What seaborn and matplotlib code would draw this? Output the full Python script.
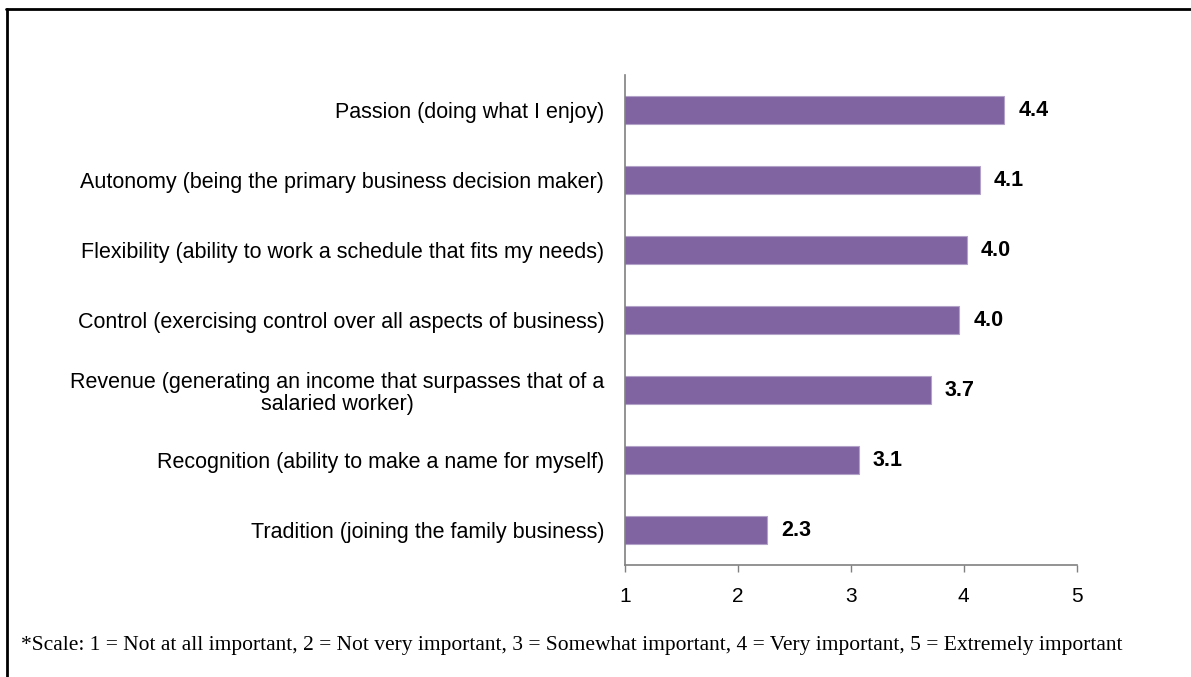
import matplotlib
matplotlib.use("Agg")
import matplotlib.pyplot as plt
import seaborn as sns
import pandas as pd
from matplotlib.lines import Line2D

# Data
categories = [
    "Passion (doing what I enjoy)",
    "Autonomy (being the primary business decision maker)",
    "Flexibility (ability to work a schedule that fits my needs)",
    "Control (exercising control over all aspects of business)",
    "Revenue (generating an income that surpasses that of a\nsalaried worker)",
    "Recognition (ability to make a name for myself)",
    "Tradition (joining the family business)",
]
scores = [4.36, 4.14, 4.03, 3.96, 3.71, 3.07, 2.26]
x_ticks = [1, 2, 3, 4, 5]

footnote = ("*Scale: 1 = Not at all important, 2 = Not very important, "
            "3 = Somewhat important, 4 = Very important, 5 = Extremely important")

df = pd.DataFrame({"category": categories, "score": scores})

sns.set_style("white")
plt.rcParams["font.family"] = ["Liberation Sans", "DejaVu Sans"]
plt.rcParams["text.color"] = "black"
plt.rcParams["xtick.color"] = "#808080"
plt.rcParams["xtick.labelcolor"] = "black"
plt.rcParams["ytick.labelcolor"] = "black"

fig = plt.figure(figsize=(11.91, 6.77), dpi=100)
ax = fig.add_axes([0.5248, 0.1654, 0.904 - 0.5248, 0.889 - 0.1654])

sns.barplot(data=df, x="score", y="category", orient="h", color="#8064A2",
            saturation=1, width=0.4, edgecolor="#B3A2C7", linewidth=0.8, ax=ax)

ax.set_xlim(1, 5)
ax.set_ylim(len(categories) - 0.5, -0.5)
ax.set_xticks(x_ticks)
ax.set_xticklabels([str(t) for t in x_ticks], fontsize=15)
ax.set_xlabel("")
ax.set_ylabel("")
ax.tick_params(axis="y", length=0, pad=15, labelsize=15.5)
ax.tick_params(axis="x", length=5, width=1, direction="out",
               bottom=True, pad=11)
for lbl in ax.get_yticklabels():
    lbl.set_horizontalalignment("right")
    lbl.set_multialignment("center")
    lbl.set_linespacing(1.1)

for side in ["top", "right"]:
    ax.spines[side].set_visible(False)
for side in ["left", "bottom"]:
    ax.spines[side].set_color("#808080")
    ax.spines[side].set_linewidth(1.2)

ax.bar_label(ax.containers[0], fmt="%.1f", padding=10,
             fontsize=15.5, fontweight="bold", color="black")

# frame lines around the chart area
fig.add_artist(Line2D([0.005, 1.0], [0.986, 0.986], color="black", lw=2,
                      transform=fig.transFigure))
fig.add_artist(Line2D([0.0055, 0.0055], [0.0, 0.986], color="black", lw=2,
                      transform=fig.transFigure))

fig.text(0.018, 0.047, footnote, fontsize=15.5, va="center",
         family=["Liberation Serif", "DejaVu Serif"])

fig.savefig("out.png", dpi=100)
